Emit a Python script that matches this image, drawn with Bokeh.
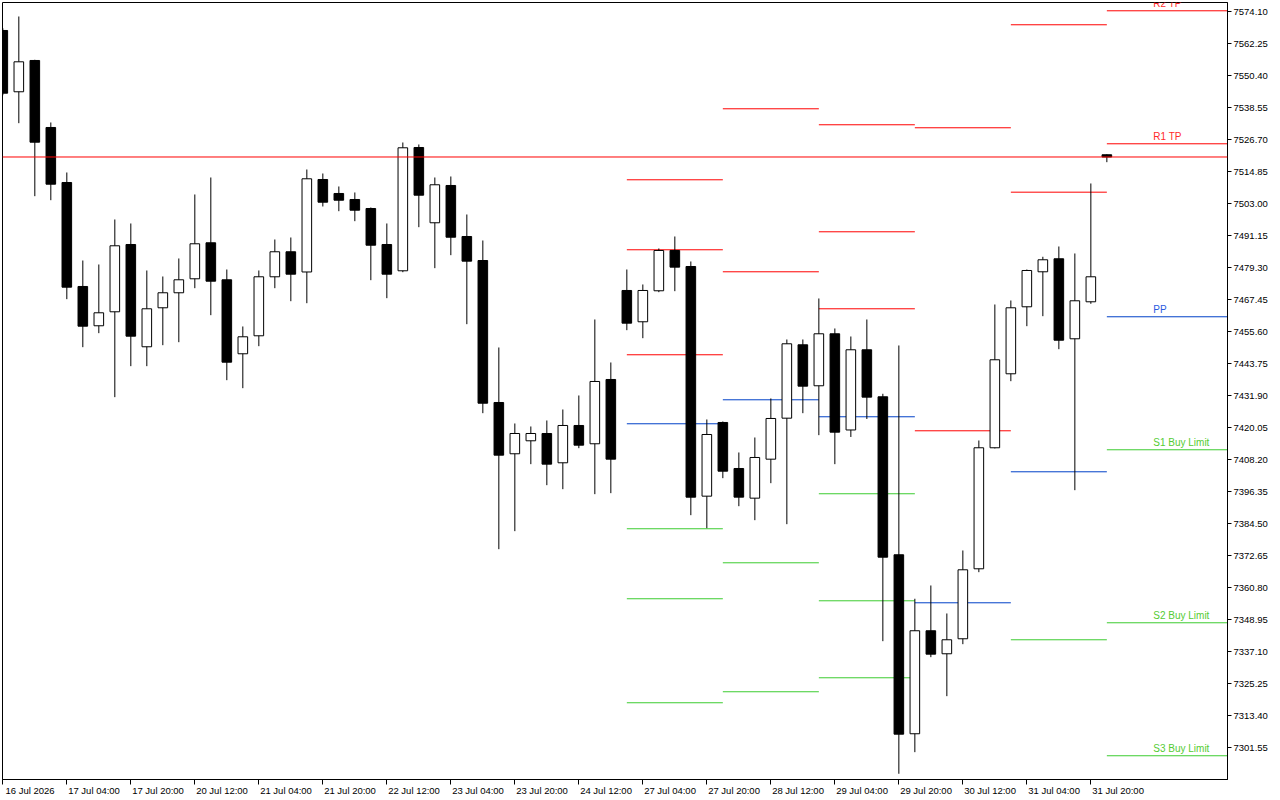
import math
from bokeh.plotting import figure
from bokeh.models import (ColumnDataSource, FixedTicker, LinearAxis, Span, Label,
                          Range1d, NumeralTickFormatter)
from bokeh.embed import file_html
from bokeh.resources import INLINE
from bokeh.core.properties import value

NaN = float("nan")

# ---------------- data ----------------
tick_bars = [0, 4, 8, 12, 16, 20, 24, 28, 32, 36, 40, 44, 48, 52, 56, 60, 64, 68]
tick_labels = ["16 Jul 2026", "17 Jul 04:00", "17 Jul 20:00", "20 Jul 12:00", "21 Jul 04:00",
               "21 Jul 20:00", "22 Jul 12:00", "23 Jul 04:00", "23 Jul 20:00", "24 Jul 12:00",
               "27 Jul 04:00", "27 Jul 20:00", "28 Jul 12:00", "29 Jul 04:00", "29 Jul 20:00",
               "30 Jul 12:00", "31 Jul 04:00", "31 Jul 20:00"]

price_ticks = [7574.10, 7562.25, 7550.40, 7538.55, 7526.70, 7514.85, 7503.00, 7491.15,
               7479.30, 7467.45, 7455.60, 7443.75, 7431.90, 7420.05, 7408.20, 7396.35,
               7384.50, 7372.65, 7360.80, 7348.95, 7337.10, 7325.25, 7313.40, 7301.55]

opens = [7567.18, 7544.48, 7556.07, 7531.26, 7510.89, 7472.38, 7457.83, 7463.01, 7487.93, 7450.05,
         7464.49, 7470.05, 7475.23, 7488.56, 7474.86, 7447.46, 7454.12, 7475.97, 7485.23, 7477.75,
         7512.00, 7506.82, 7504.59, 7501.26, 7487.93, 7478.19, 7523.85, 7495.97, 7509.78, 7490.89,
         7482.00, 7429.42, 7410.43, 7415.24, 7417.94, 7407.09, 7420.91, 7414.13, 7437.94, 7470.90,
         7459.31, 7470.79, 7485.71, 7479.78, 7394.73, 7422.02, 7404.98, 7393.99, 7408.43, 7423.61,
         7450.79, 7435.61, 7454.86, 7419.24, 7448.94, 7431.53, 7373.03, 7306.75, 7344.89, 7336.37,
         7341.92, 7367.84, 7412.65, 7440.05, 7464.86, 7477.82, 7482.64, 7453.01, 7466.71, 7521.15]
highs = [7568.00, 7572.36, 7556.33, 7533.11, 7514.59, 7482.00, 7480.52, 7497.19, 7495.71, 7478.30,
         7476.08, 7482.75, 7506.45, 7512.74, 7478.67, 7457.57, 7478.30, 7489.78, 7490.52, 7515.70,
         7514.22, 7509.41, 7507.19, 7501.63, 7495.71, 7525.70, 7524.96, 7512.74, 7513.11, 7499.04,
         7489.41, 7449.79, 7421.65, 7420.54, 7422.76, 7426.83, 7432.02, 7460.16, 7444.24, 7478.67,
         7473.12, 7486.45, 7490.89, 7481.64, 7423.13, 7422.39, 7410.91, 7416.46, 7430.91, 7452.75,
         7452.75, 7467.94, 7456.83, 7453.86, 7460.16, 7432.65, 7450.53, 7356.74, 7361.66, 7351.29,
         7374.62, 7415.35, 7465.71, 7467.19, 7478.67, 7483.38, 7487.19, 7484.60, 7510.52, 7521.30]
lows = [7543.20, 7532.85, 7505.82, 7504.33, 7467.68, 7449.90, 7455.09, 7431.39, 7442.87, 7442.87,
        7450.64, 7451.75, 7471.75, 7461.75, 7437.68, 7434.72, 7450.27, 7471.75, 7466.93, 7466.19,
        7502.00, 7500.26, 7496.56, 7474.71, 7468.05, 7477.67, 7494.34, 7479.16, 7483.97, 7458.42,
        7425.46, 7375.10, 7381.77, 7406.58, 7398.80, 7397.32, 7412.50, 7395.47, 7395.84, 7456.20,
        7453.23, 7470.27, 7470.64, 7387.69, 7382.88, 7401.39, 7391.02, 7385.84, 7399.54, 7384.36,
        7425.46, 7417.32, 7406.58, 7416.65, 7423.31, 7341.03, 7291.93, 7299.93, 7335.11, 7320.67,
        7339.92, 7366.58, 7412.40, 7437.31, 7457.68, 7461.38, 7449.16, 7396.95, 7465.97, 7518.41]
closes = [7543.96, 7555.58, 7525.81, 7510.26, 7472.12, 7457.68, 7462.64, 7487.45, 7453.98, 7464.12,
          7470.05, 7474.86, 7488.19, 7474.34, 7444.35, 7453.75, 7475.97, 7485.23, 7476.93, 7512.26,
          7503.59, 7504.33, 7500.63, 7487.67, 7476.93, 7523.74, 7506.19, 7510.04, 7490.63, 7481.75,
          7429.16, 7409.91, 7417.94, 7417.94, 7406.58, 7420.91, 7413.61, 7437.20, 7408.43, 7458.79,
          7470.90, 7485.71, 7479.53, 7394.36, 7417.57, 7403.98, 7394.36, 7409.06, 7423.50, 7451.16,
          7435.46, 7454.86, 7418.43, 7448.94, 7431.39, 7372.14, 7306.60, 7344.89, 7336.22, 7341.55,
          7367.47, 7412.65, 7445.24, 7464.49, 7478.30, 7482.27, 7452.49, 7467.08, 7475.97, 7520.33]

# daily pivot levels (bar index where each day starts); NaN = not visible
pivot_start = [39, 45, 51, 57, 63, 69]
r3 = [7511.89, NaN, 7532.26, NaN, NaN, NaN]
r2 = [7485.97, 7538.18, 7492.63, 7531.15, 7569.29, 7574.47]
r1 = [7447.09, 7477.82, 7464.12, 7418.94, 7507.30, 7525.22]
pp = [7421.54, 7430.42, 7424.13, 7355.25, 7403.76, 7461.16]
s1 = [7382.66, 7370.06, 7395.62, NaN, 7341.55, 7411.91]
s2 = [7356.74, 7322.30, 7355.99, NaN, NaN, 7347.85]
s3 = [7318.23, NaN, 7327.48, NaN, NaN, 7298.60]

current_labels = {"R2": "R2 TP", "R1": "R1 TP", "PP": "PP",
                  "S1": "S1 Buy Limit", "S2": "S2 Buy Limit", "S3": "S3 Buy Limit"}
bid = 7520.33

# ---------------- styling ----------------
RED = "#ff0000"
BLUE = "#0040c8"
GREEN = "#3ccc30"
TXT = {RED: "#ff2a2a", BLUE: "#2a5ae0", GREEN: "#55cc33"}
FONT = "Liberation Sans"
AX_SIZE = "9.5px"

X0, X1 = -0.02, 76.54
Y0, Y1 = 7289.81, 7577.54

p = figure(frame_width=1225, frame_height=777,
           x_range=Range1d(X0, X1), y_range=Range1d(Y0, Y1),
           y_axis_location="right", output_backend="svg", toolbar_location=None,
           min_border_left=2, min_border_top=2, min_border_right=0, min_border_bottom=0)
p.background_fill_color = "white"
p.border_fill_color = "white"
p.outline_line_color = "black"
p.outline_line_alpha = 1.0
p.outline_line_width = 1
p.xgrid.visible = False
p.ygrid.visible = False

# x axis: tick marks at bars (labels are carried by the second axis)
xa = p.xaxis[0]
xa.ticker = FixedTicker(ticks=tick_bars)
xa.major_label_text_font_size = "0px"
xa.major_label_text_color = None
xa.major_label_standoff = 0
xa.major_tick_out = 5
xa.major_tick_in = 0
xa.minor_tick_line_color = None
xa.axis_line_color = "black"
xa.major_tick_line_color = "black"

# second axis carrying labels shifted to start right of the tick
shift = 1.70
lab_ticks = [t + shift for t in tick_bars]
xa2 = LinearAxis(ticker=FixedTicker(ticks=lab_ticks),
                 major_label_overrides={lt: s for lt, s in zip(lab_ticks, tick_labels)},
                 axis_line_color=None, major_tick_line_color=None, minor_tick_line_color=None,
                 major_tick_out=0, major_tick_in=0, major_label_standoff=0,
                 major_label_text_font=FONT, major_label_text_font_size=AX_SIZE,
                 major_label_text_color="black")
p.add_layout(xa2, "below")

ya = p.yaxis[0]
ya.ticker = FixedTicker(ticks=price_ticks)
ya.formatter = NumeralTickFormatter(format="0.00")
ya.major_tick_out = 4
ya.major_tick_in = 0
ya.minor_tick_line_color = None
ya.major_label_standoff = 2
ya.axis_line_color = "black"
ya.major_tick_line_color = "black"
ya.major_label_text_font = FONT
ya.major_label_text_font_size = AX_SIZE
ya.major_label_text_color = "black"

# ---------------- pivot segments ----------------
ends = pivot_start[1:] + [X1 + 2]
levels = [("R3", r3, RED), ("R2", r2, RED), ("R1", r1, RED), ("PP", pp, BLUE),
          ("S1", s1, GREEN), ("S2", s2, GREEN), ("S3", s3, GREEN)]
sx0, sx1, sy, sc = [], [], [], []
lx, ly, lt, lc = [], [], [], []
for name, vals, col in levels:
    for i, v in enumerate(vals):
        if math.isnan(v):
            continue
        sx0.append(pivot_start[i]); sx1.append(ends[i]); sy.append(v); sc.append(col)
        if i == len(vals) - 1 and name in current_labels:
            lx.append(pivot_start[i] + 2.9); ly.append(v)
            lt.append(current_labels[name]); lc.append(TXT[col])

p.segment(x0=sx0, y0=sy, x1=sx1, y1=sy, line_color=sc, line_width=1)
p.text(x=lx, y=ly, text=lt, text_color=lc, text_font=value(FONT), text_font_size="10px",
       text_align="left", text_baseline="alphabetic", y_offset=-7)

# bid line
p.add_layout(Span(location=bid, dimension="width", line_color=RED, line_width=1))

# ---------------- candles ----------------
n = len(opens)
xs = list(range(n))
src = ColumnDataSource(dict(
    x=xs, h=highs, l=lows,
    top=[max(o, c) for o, c in zip(opens, closes)],
    bot=[min(o, c) for o, c in zip(opens, closes)],
    fill=["white" if c > o else "black" for o, c in zip(opens, closes)],
))
p.segment(x0="x", y0="h", x1="x", y1="l", source=src, line_color="black", line_width=1)
p.vbar(x="x", top="top", bottom="bot", width=0.6, source=src,
       fill_color="fill", line_color="black", line_width=1)

# price tag on the axis
p.add_layout(Label(x=X1, y=bid, x_units="data", y_units="data", x_offset=3,
                   text=f"{bid:.2f}", text_color="white", text_font=FONT,
                   text_font_size=AX_SIZE, text_align="left", text_baseline="middle",
                   background_fill_color="#c80000", padding=1))

open("out.html", "w").write(file_html(p, INLINE))
